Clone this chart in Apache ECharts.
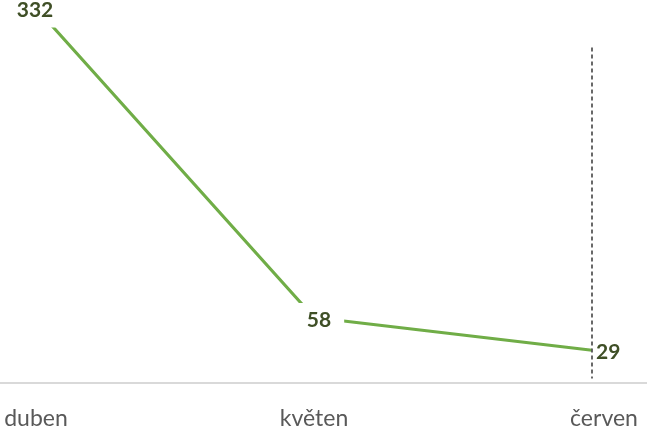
<!DOCTYPE html>
<html><head><meta charset="utf-8">
<script src="https://cdn.jsdelivr.net/npm/echarts@6/dist/echarts.min.js"></script>
<style>html,body{margin:0;padding:0;background:#fff}#c{width:647px;height:426px}</style>
</head><body><div id="c"></div>
<script>
const categories = ['duben', 'květen', 'červen'];
const values = [332, 58, 29];
const markerTop = 297;
const markerBottom = 4;

const chart = echarts.init(document.getElementById('c'), null, {renderer: 'canvas'});
const labelFont = {fontFamily: 'Lato', fontWeight: 'bold', fontSize: 21, color: '#3f4f26'};
chart.setOption({
  animation: false,
  grid: [
    {left: 36, right: 55, top: 8, bottom: 43, outerBoundsMode: 'none', containLabel: false},
    {left: 0, right: 0, top: 8, bottom: 43, outerBoundsMode: 'none', containLabel: false}
  ],
  xAxis: [
    {
      type: 'category', data: categories, boundaryGap: false, gridIndex: 0,
      axisLine: {show: false}, axisTick: {show: false},
      axisLabel: {
        margin: 24, fontFamily: 'Lato', fontSize: 23, color: '#595959',
        formatter: (v, i) => i === categories.length - 1 ? '{r|' + v + '}' : v,
        rich: {r: {fontFamily: 'Lato', fontSize: 23, color: '#595959', padding: [0, 0, 0, 24]}}
      }
    },
    {
      type: 'value', gridIndex: 1, min: 0, max: 1,
      axisLine: {show: true, onZero: false, lineStyle: {color: '#d9d9d9', width: 2}},
      axisTick: {show: false}, axisLabel: {show: false}, splitLine: {show: false}
    }
  ],
  yAxis: [
    {type: 'value', min: 0, max: 332, gridIndex: 0, show: false},
    {type: 'value', min: 0, max: 1, gridIndex: 1, show: false}
  ],
  series: [{
    type: 'line',
    data: values.map((v, i) => ({
      value: v,
      label: i === values.length - 1
        ? {position: 'right', distance: 4, padding: [0, 0, 0, 0], backgroundColor: 'transparent', offset: [0, 2]}
        : (i === 1 ? {offset: [5, 3]} : {offset: [-1, 2]})
    })),
    xAxisIndex: 0, yAxisIndex: 0,
    symbol: 'circle', symbolSize: 0.1,
    itemStyle: {color: '#70ad47'},
    lineStyle: {color: '#70ad47', width: 3.2},
    label: Object.assign({show: true, position: 'inside', backgroundColor: '#fff', padding: [7, 13]}, labelFont),
    markLine: {
      silent: true, symbol: 'none',
      label: {show: false},
      lineStyle: {color: '#595959', type: [4, 3], width: 1.8},
      data: [[{coord: [categories[2], markerTop]}, {coord: [categories[2], markerBottom]}]]
    }
  }]
});
</script></body></html>
